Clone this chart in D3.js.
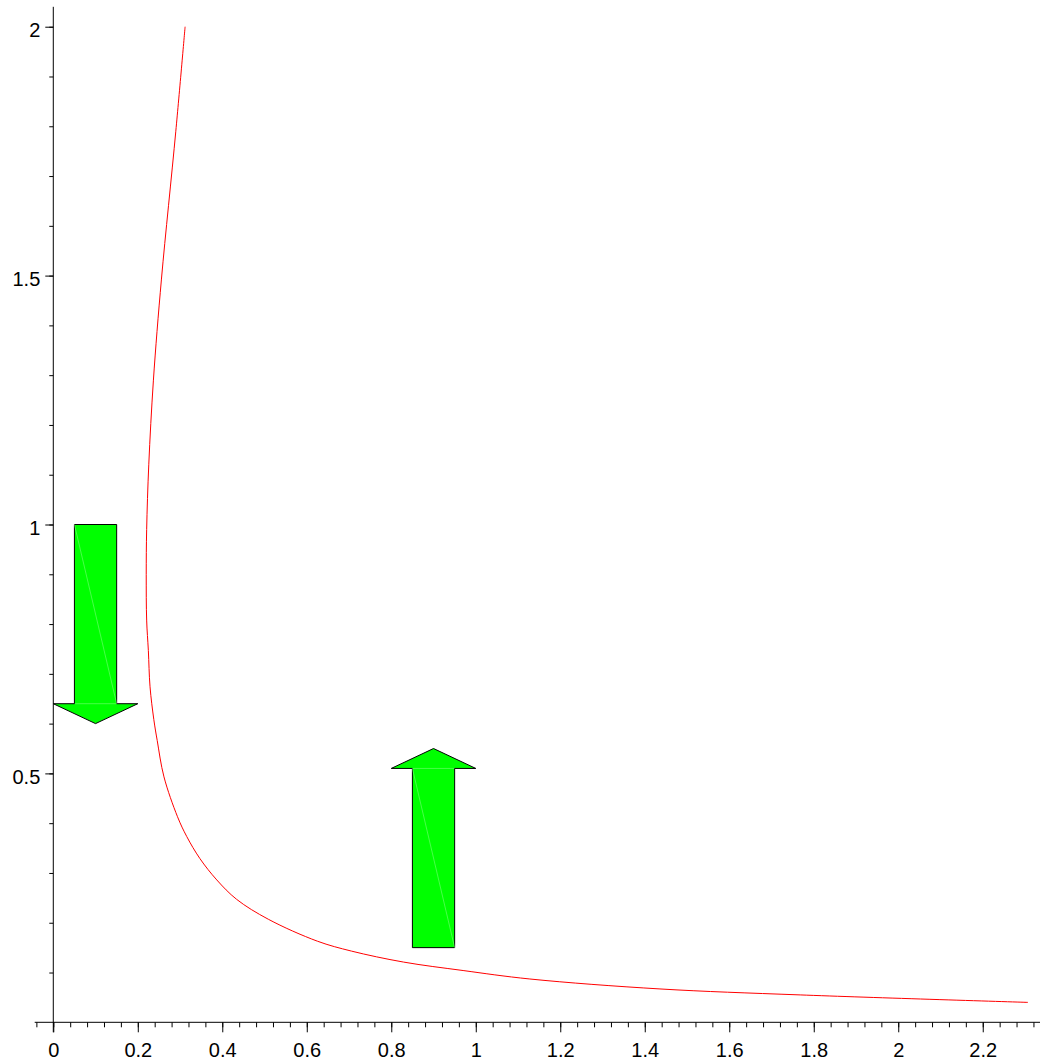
<!DOCTYPE html>
<html>
<head>
<meta charset="utf-8">
<script src="https://cdn.jsdelivr.net/npm/d3@7"></script>
<style>
  html, body { margin: 0; padding: 0; background: #fff; }
  svg { display: block; }
  text { font-family: "Liberation Sans", Arial, Helvetica, sans-serif; }
</style>
</head>
<body>
<div id="chart"></div>
<script>
// Curve samples (x, y)
const curveX = [0.312, 0.290, 0.256, 0.237, 0.226, 0.221, 0.220, 0.221, 0.225, 0.229, 0.238, 0.246, 0.262, 0.294, 0.316, 0.347, 0.387, 0.434, 0.509, 0.625, 0.706, 0.829, 0.970, 1.128, 1.436, 1.768, 2.307];
const curveY = [2.000, 1.790, 1.493, 1.290, 1.120, 0.990, 0.900, 0.808, 0.747, 0.674, 0.608, 0.566, 0.493, 0.413, 0.373, 0.329, 0.286, 0.247, 0.207, 0.163, 0.143, 0.121, 0.104, 0.087, 0.067, 0.055, 0.040];

// Direction arrows: tail and tip points
const arrowTailX = [0.1, 0.9];
const arrowTailY = [1.0, 0.15];
const arrowTipX  = [0.1, 0.9];
const arrowTipY  = [0.6, 0.55];

// Axis ticks
const xTicks = [0, 0.2, 0.4, 0.6, 0.8, 1, 1.2, 1.4, 1.6, 1.8, 2, 2.2];
const xTickLabels = ["0", "0.2", "0.4", "0.6", "0.8", "1", "1.2", "1.4", "1.6", "1.8", "2", "2.2"];
const yTicks = [0.5, 1, 1.5, 2];
const yTickLabels = ["0.5", "1", "1.5", "2"];

const W = 1040, H = 1063;
const FONT = 20;

const svg = d3.select("#chart").append("svg")
  .attr("width", W).attr("height", H);

const x = d3.scaleLinear().domain([-0.044, 2.336]).range([34.7, 1040.2]);
const y = d3.scaleLinear().domain([0, 2.04]).range([1022.3, 6.8]);

// ---- x axis (minor + major ticks) ----
const xMinor = d3.range(-0.04, 2.3401, 0.04).map(v => +v.toFixed(2));
const xAxisMinor = svg.append("g")
  .attr("transform", `translate(0,${y(0)})`)
  .call(d3.axisBottom(x).tickValues(xMinor).tickSize(5).tickSizeOuter(0).tickFormat(""));
xAxisMinor.select(".domain").remove();

const xAxis = svg.append("g")
  .attr("transform", `translate(0,${y(0)})`)
  .call(d3.axisBottom(x).tickValues(xTicks).tickSize(10).tickSizeOuter(0).tickPadding(11)
    .tickFormat((d, i) => xTickLabels[i]));
xAxis.select(".domain").remove();
xAxis.selectAll("text").attr("font-size", FONT).attr("font-family", null).attr("fill", "#000");

svg.append("line")
  .attr("x1", x(-0.044)).attr("x2", W)
  .attr("y1", y(0)).attr("y2", y(0))
  .attr("stroke", "#000").attr("stroke-width", 1);

// ---- y axis (minor + major ticks) ----
const yMinor = d3.range(0.1, 2.0001, 0.1).map(v => +v.toFixed(1));
const yAxisMinor = svg.append("g")
  .attr("transform", `translate(${x(0)},0)`)
  .call(d3.axisLeft(y).tickValues(yMinor).tickSize(4).tickSizeOuter(0).tickFormat(""));
yAxisMinor.select(".domain").remove();

const yAxis = svg.append("g")
  .attr("transform", `translate(${x(0)},0)`)
  .call(d3.axisLeft(y).tickValues(yTicks).tickSize(8).tickSizeOuter(0).tickPadding(5)
    .tickFormat((d, i) => yTickLabels[i]));
yAxis.select(".domain").remove();
yAxis.selectAll("text").attr("font-size", FONT).attr("font-family", null)
  .attr("fill", "#000").attr("dy", "0.5em");

svg.append("line")
  .attr("x1", x(0)).attr("x2", x(0))
  .attr("y1", y(2.04)).attr("y2", y(0) + 10)
  .attr("stroke", "#000").attr("stroke-width", 1);

// ---- arrows ----
const SHAFT_HALF = 0.05, HEAD_HALF = 0.1, HEAD_LEN = 0.04;
const arrows = arrowTailX.map((tx, i) => ({
  tx, ty: arrowTailY[i], hx: arrowTipX[i], hy: arrowTipY[i]
}));

const ag = svg.append("g");
arrows.forEach(a => {
  const dir = Math.sign(a.hy - a.ty);
  const baseY = a.hy - dir * HEAD_LEN;
  const pts = [
    [a.tx - SHAFT_HALF, a.ty],
    [a.tx + SHAFT_HALF, a.ty],
    [a.tx + SHAFT_HALF, baseY],
    [a.tx + HEAD_HALF, baseY],
    [a.hx, a.hy],
    [a.tx - HEAD_HALF, baseY],
    [a.tx - SHAFT_HALF, baseY]
  ];
  ag.append("polygon")
    .attr("points", pts.map(p => [x(p[0]), y(p[1])].join(",")).join(" "))
    .attr("fill", "#00ff00")
    .attr("stroke", "#000")
    .attr("stroke-width", 1)
    .attr("stroke-linejoin", "miter");
  // faint seams between the filled triangles
  const top = dir < 0 ? a.ty : baseY;
  const bot = dir < 0 ? baseY : a.ty;
  ag.append("line")
    .attr("x1", x(a.tx - SHAFT_HALF)).attr("y1", y(top))
    .attr("x2", x(a.tx + SHAFT_HALF)).attr("y2", y(bot))
    .attr("stroke", "#8fff8f").attr("stroke-width", 0.5);
  ag.append("line")
    .attr("x1", x(a.tx - SHAFT_HALF) + 0.5).attr("y1", y(baseY))
    .attr("x2", x(a.tx + SHAFT_HALF) - 0.5).attr("y2", y(baseY))
    .attr("stroke", "#8fff8f").attr("stroke-width", 0.5);
});

// ---- curve ----
const curveData = curveX.map((v, i) => [v, curveY[i]]);
svg.append("path")
  .datum(curveData)
  .attr("fill", "none")
  .attr("stroke", "#ff0000")
  .attr("stroke-width", 1)
  .attr("d", d3.line().x(d => x(d[0])).y(d => y(d[1])).curve(d3.curveCatmullRom.alpha(0.5)));
</script>
</body>
</html>
